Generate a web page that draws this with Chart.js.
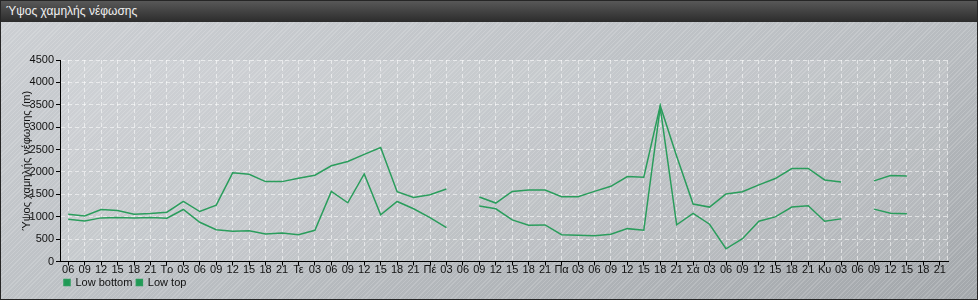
<!DOCTYPE html>
<html>
<head>
<meta charset="utf-8">
<script src="https://cdn.jsdelivr.net/npm/chart.js@4.4.1/dist/chart.umd.min.js"></script>
<style>
  html, body { margin: 0; padding: 0; background: #9ea2a6; }
  #panel {
    position: absolute; left: 0; top: 0; width: 978px; height: 300px;
    box-sizing: border-box; border: 1px solid #262626;
    background:
      repeating-linear-gradient(135deg, rgba(255,255,255,0.16) 0 1px, rgba(255,255,255,0) 1px 3px),
      linear-gradient(160deg, #cdd0d4 0%, #bcc0c4 50%, #a3a7ab 100%);
    font-family: "Liberation Sans", Arial, sans-serif;
  }
  #title {
    position: absolute; left: 0; top: 0; width: 976px; height: 21px;
    background: linear-gradient(#585858, #2c2c2c);
    color: #f0f0f0; font-size: 12px; line-height: 21px; padding-left: 5px; box-sizing: border-box;
  }
  #wrap { position: absolute; left: 0; top: 21px; width: 976px; height: 277px; }
</style>
</head>
<body>
<div id="panel">
  <div id="title">Ύψος χαμηλής νέφωσης</div>
  <div id="wrap"><canvas id="chart"></canvas></div>
</div>
<script>
// tick labels: 3-hourly, day names at midnight
const hours = ['03', '06', '09', '12', '15', '18', '21'];
const days = ['Τρ', 'Τε', 'Πέ', 'Πα', 'Σά', 'Κυ'];
const labels = ['06', '09', '12', '15', '18', '21'];
days.forEach(d => { labels.push(d); hours.forEach(h => labels.push(h)); });

// metres (null = no data)
const lowBottom = [
    945, 907, 974, 981, 974, 981,
    967, 1161, 877, 711, 675, 688, 614, 637,
    599, 697, 1566, 1312, 1957, 1042, 1341, 1177,
    981, 756, null, 1237, 1177, 929, 810, 817,
    599, 585, 576, 607, 734, 697, 3440, 820,
    1075, 832, 284, 509, 900, 997, 1215, 1244,
    900, 952, null, 1170, 1080, 1064, null, null
];
const lowTop = [
    1057, 1019, 1161, 1139, 1057, 1071,
    1102, 1341, 1116, 1260, 1980, 1949, 1784, 1784,
    1859, 1926, 2137, 2234, 2392, 2545, 1559, 1431,
    1492, 1620, null, 1440, 1305, 1566, 1597, 1597,
    1447, 1447, 1566, 1679, 1897, 1881, 3480, 2350,
    1282, 1215, 1507, 1559, 1710, 1852, 2077, 2077,
    1822, 1777, null, 1800, 1919, 1912, null, null
];

const yMax = 4500;
const yStep = 500;
const yTitle = 'Ύψος χαμηλής νέφωσης (m)';
const LINE = '#2a9d5c';
const FONT = { family: '"Liberation Sans", Arial, sans-serif', size: 11 };

const plotBg = {
    id: 'plotBg',
    beforeDraw(chart) {
        const { ctx, chartArea: a } = chart;
        ctx.save();
        ctx.fillStyle = 'rgba(255,255,255,0.12)';
        ctx.fillRect(a.left, a.top, a.right - a.left, a.bottom - a.top);
        ctx.restore();
    },
    beforeDatasetsDraw(chart) {
        const { ctx, chartArea: a } = chart;
        ctx.save();
        ctx.strokeStyle = 'rgba(255,255,255,0.55)';
        ctx.setLineDash([4, 3]);
        ctx.beginPath();
        ctx.moveTo(a.right - 0.5, a.top);
        ctx.lineTo(a.right - 0.5, a.bottom);
        ctx.stroke();
        ctx.restore();
    }
};

function makeSet(label, data) {
    return {
        label, data,
        borderColor: LINE,
        backgroundColor: '#1f9a55',
        borderWidth: 1.5,
        pointRadius: 0,
        tension: 0,
        spanGaps: false
    };
}

new Chart(document.getElementById('chart'), {
    type: 'line',
    data: { labels, datasets: [makeSet('Low bottom', lowBottom), makeSet('Low top', lowTop)] },
    options: {
        responsive: true,
        maintainAspectRatio: false,
        animation: false,
        layout: { padding: { top: 38, right: 29, bottom: 1, left: 0 } },
        plugins: {
            tooltip: { enabled: false },
            legend: {
                position: 'bottom',
                align: 'start',
                fullSize: false,
                labels: { boxWidth: 6, boxHeight: 6, padding: 4, color: '#111', font: FONT }
            }
        },
        scales: {
            x: {
                offset: true,
                afterFit(s) { s.height = 11.5; },
                grid: { offset: false, color: 'rgba(255,255,255,0.55)', tickColor: '#000', tickLength: 4 },
                border: { color: '#000', width: 1, dash: [4, 3] },
                ticks: { autoSkip: false, maxRotation: 0, padding: -2, color: '#111', font: FONT }
            },
            y: {
                min: 0, max: yMax,
                afterFit(s) { s.width = 59; },
                grid: { color: 'rgba(255,255,255,0.55)', tickColor: '#000', tickLength: 4 },
                border: { color: '#000', width: 1, dash: [4, 3] },
                ticks: { stepSize: yStep, padding: 2, color: '#111', font: FONT, callback: v => String(v) },
                title: { display: true, text: yTitle, color: '#111', font: FONT, padding: { top: 19, bottom: 0 } }
            }
        }
    },
    plugins: [plotBg]
});
</script>
</body>
</html>
